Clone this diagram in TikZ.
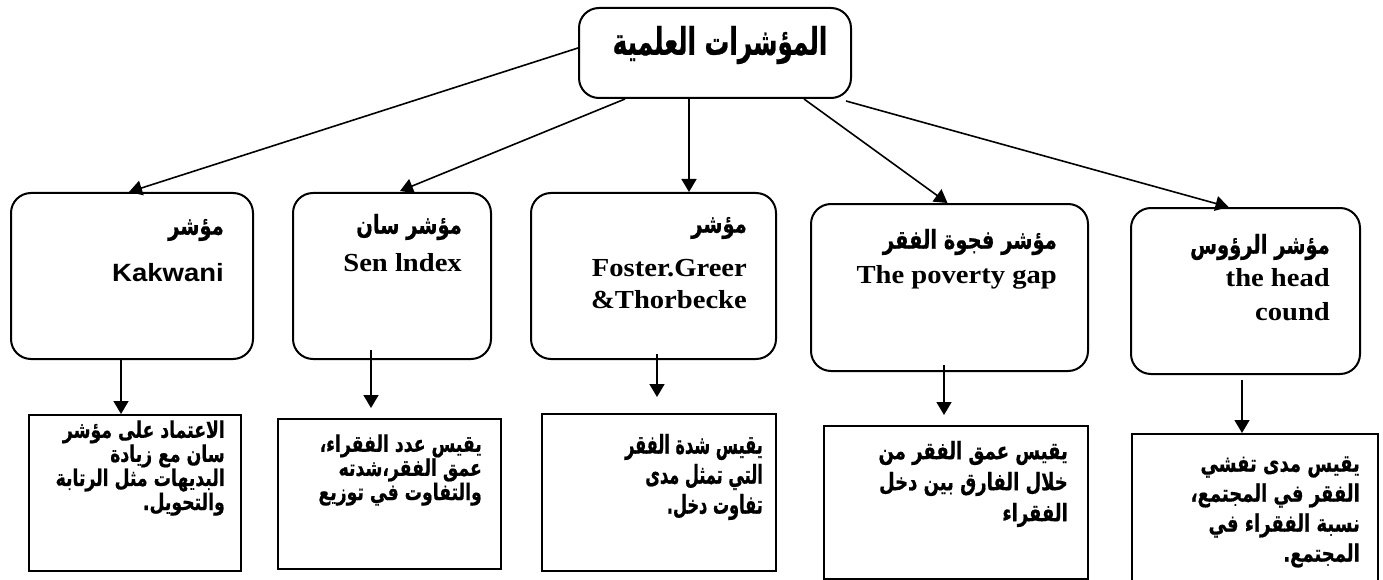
\documentclass[tikz,border=0pt]{standalone}
\usepackage{fontspec}
\setmainfont{Liberation Serif}[FakeStretch=1.1]
\newfontfamily\latinsans{Liberation Sans}[FakeStretch=1.1]
\newfontfamily\arabicfont[Script=Arabic,FakeStretch=0.75,FakeBold=0.6]{DejaVu Sans}
\newfontfamily\arabictitle[Script=Arabic,FakeStretch=0.65,FakeBold=0.6]{DejaVu Sans}
\newfontfamily\arabicnarrow[Script=Arabic,FakeStretch=0.62,FakeBold=0.6]{DejaVu Sans}
\TeXXeTstate=1
\usetikzlibrary{arrows.meta}
\newcommand{\rtl}[1]{\beginR#1\endR}

\begin{document}
\begin{tikzpicture}[x=1pt,y=-1pt,
  box/.style={draw, line width=2pt, anchor=north west, inner sep=0pt},
  roundbox/.style={box, rounded corners=20pt},
  link/.style={line width=1.6pt, -{Triangle[length=13pt,width=15pt]}},
  titletext/.style={inner sep=0pt, font=\arabictitle\bfseries\fontsize{38}{40}\selectfont},
  arlabel/.style={anchor=east, inner sep=0pt, font=\arabicfont\bfseries\fontsize{26}{28}\selectfont},
  serlabel/.style={anchor=east, inner sep=0pt, align=right, font=\bfseries\fontsize{26}{#1}\selectfont},
  serlabel/.default=30,
  sanslabel/.style={anchor=east, inner sep=0pt, font=\latinsans\bfseries\fontsize{25}{30}\selectfont},
  lowtext/.style={anchor=east, inner sep=0pt, align=right, font=\arabicfont\bfseries\fontsize{24}{#1}\selectfont},
  lowtext/.default=22,
  lowtight/.style={anchor=east, inner sep=0pt, align=right, font=\arabicfont\bfseries\fontsize{23}{#1}\selectfont},
  lownarrow/.style={anchor=east, inner sep=0pt, align=right, font=\arabicnarrow\bfseries\fontsize{26}{#1}\selectfont}
]
\useasboundingbox (0,0) rectangle (1383,580);

% root
\node[roundbox, minimum width=272pt, minimum height=90pt] (root) at (578,7) {};
\node[titletext] (roottext) at (720,45) {\rtl{المؤشرات العلمية}};

% second row: the five indices
\node[roundbox, minimum width=242pt, minimum height=166pt] (kak) at (10,192) {};
\node[roundbox, minimum width=198pt, minimum height=166pt] (sen) at (292,192) {};
\node[roundbox, minimum width=245pt, minimum height=166pt] (fgt) at (530,192) {};
\node[roundbox, minimum width=277pt, minimum height=167pt] (gap) at (810,203) {};
\node[roundbox, minimum width=229pt, minimum height=166pt] (head) at (1130,207) {};

\node[arlabel] (kakar) at (224,230) {\rtl{مؤشر}};
\node[sanslabel] (kaken) at (224,273) {Kakwani};
\node[arlabel] (senar) at (462,227) {\rtl{مؤشر سان}};
\node[serlabel] (senen) at (462,263) {Sen lndex};
\node[arlabel] (fgtar) at (747,228) {\rtl{مؤشر}};
\node[serlabel=32] (fgten) at (747,284) {Foster.Greer\\\&Thorbecke};
\node[arlabel] (gapar) at (1057,242) {\rtl{مؤشر فجوة الفقر}};
\node[serlabel] (gapen) at (1057,277) {The poverty gap};
\node[arlabel] (headar) at (1330,247) {\rtl{مؤشر الرؤوس}};
\node[serlabel=34] (headen) at (1330,295) {the head\\cound};

% third row: what each index measures
\node[box, minimum width=212pt, minimum height=156pt] (low1) at (28,414) {};
\node[box, minimum width=223pt, minimum height=150pt] (low2) at (277,418) {};
\node[box, minimum width=234pt, minimum height=157pt] (low3) at (541,413) {};
\node[box, minimum width=264pt, minimum height=153pt] (low4) at (823,425) {};
\node[box, minimum width=246pt, minimum height=160pt] (low5) at (1131,433) {};

\node[lowtight=22] (low1t) at (225,468) {\rtl{الاعتماد على مؤشر}\\\rtl{سان مع زيادة}\\\rtl{البديهات مثل الرتابة}\\\rtl{والتحويل.}};
\node[lowtight=23] (low2t) at (482,470) {\rtl{يقيس عدد الفقراء،}\\\rtl{عمق الفقر،شدته}\\\rtl{والتفاوت في توزيع}};
\node[lownarrow=30] (low3t) at (763,477) {\rtl{يقيس شدة الفقر}\\\rtl{التي تمثل مدى}\\\rtl{تفاوت دخل.}};
\node[lowtext=31] (low4t) at (1068,484) {\rtl{يقيس عمق الفقر من}\\\rtl{خلال الفارق بين دخل}\\\rtl{الفقراء}};
\node[lowtext=30] (low5t) at (1360,512) {\rtl{يقيس مدى تفشي}\\\rtl{الفقر في المجتمع،}\\\rtl{نسبة الفقراء في}\\\rtl{المجتمع.}};

% connectors from the root
\draw[link] ([yshift=5pt]root.west) -- ([xshift=-3pt]kak.north);
\draw[link] ([xshift=47pt]root.south west) -- ([xshift=8pt,yshift=1pt]sen.north);
\draw[link] ([xshift=-26pt]root.south) -- ([xshift=-26pt]root.south |- fgt.north);
\draw[link] ([xshift=89pt]root.south) -- ([xshift=-2pt]gap.north);
\draw[link] ([xshift=-6pt,yshift=-2pt]root.south east) -- ([xshift=-17pt]head.north);

% connectors to the descriptions
\draw[link] ([xshift=-11pt]kak.south) -- ([xshift=-11pt]kak.south |- low1.north);
\draw[link] ([xshift=-21pt,yshift=10pt]sen.south) -- ([xshift=-21pt,yshift=10pt]sen.south |- low2.north);
\draw[link, shorten >=10pt] ([xshift=3.5pt,yshift=6pt]fgt.south) -- ([xshift=3.5pt,yshift=6pt]fgt.south |- low3.north);
\draw[link, shorten >=3pt] ([xshift=-5.5pt,yshift=7pt]gap.south) -- ([xshift=-5.5pt,yshift=7pt]gap.south |- low4.north);
\draw[link, shorten >=5pt] ([xshift=-3.5pt,yshift=-5pt]head.south) -- ([xshift=-3.5pt,yshift=-5pt]head.south |- low5.north);
\end{tikzpicture}
\end{document}
